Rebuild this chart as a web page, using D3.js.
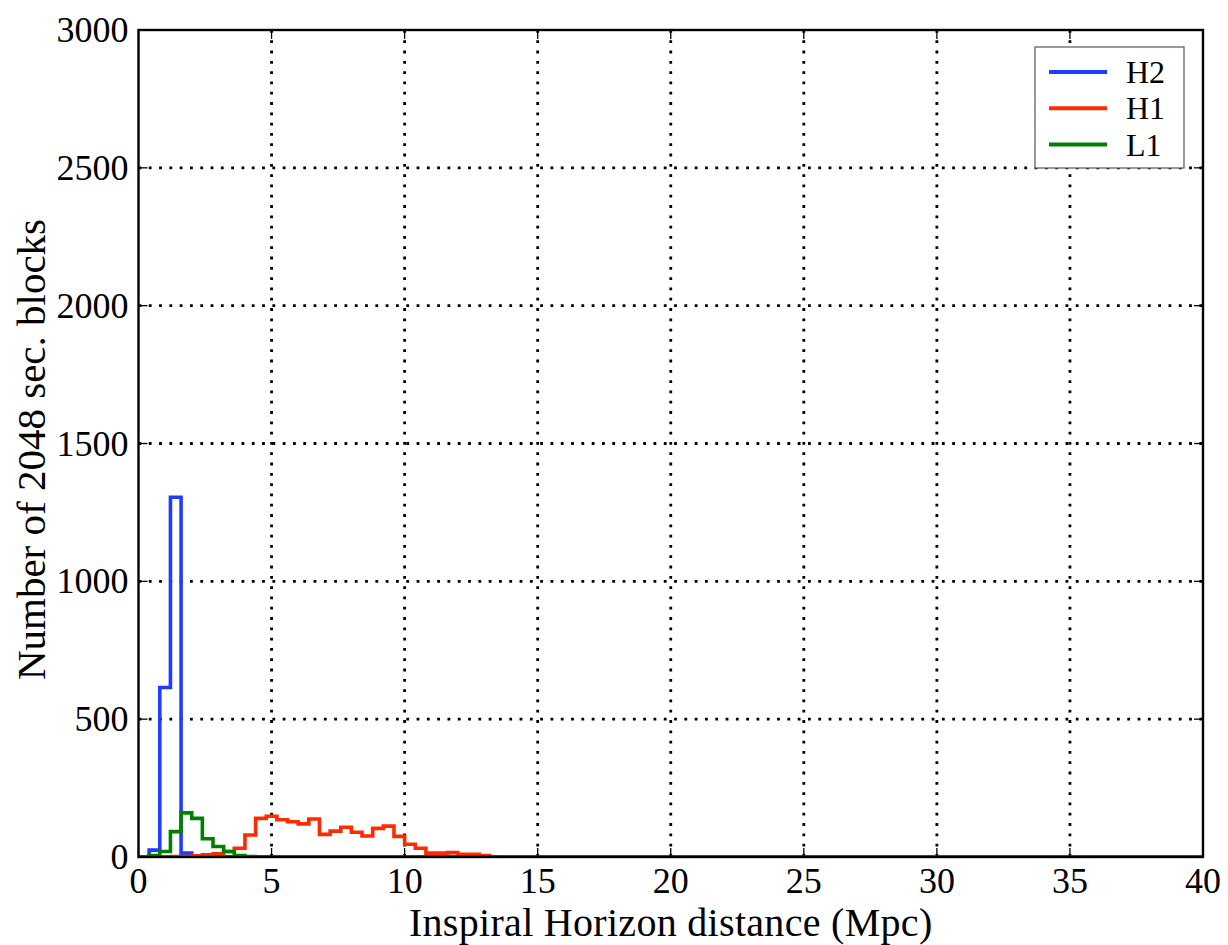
<!DOCTYPE html>
<html>
<head>
<meta charset="utf-8">
<script src="https://cdn.jsdelivr.net/npm/d3@7/dist/d3.min.js"></script>
<style>
  body { margin: 0; background: #fff; }
  text { font-family: "Liberation Serif", "DejaVu Serif", serif; fill: #000; }
</style>
</head>
<body>
<svg width="1228" height="945"></svg>
<script>
// histogram bins: 100 bins of 0.4 Mpc between 0 and 40, counts listed from bin 0,
// bins not listed are empty
var binWidth = 0.4,
    xMax = 40;

var h2Counts = [0, 25, 615, 1305, 14, 2, 1, 1, 1];
var h1Counts = [0, 0, 1, 2, 2, 4, 8, 12, 20, 32, 80, 140, 148, 135, 128, 120, 138, 82,
                94, 108, 90, 76, 104, 112, 75, 46, 32, 14, 14, 16, 10, 10, 5, 1];
var l1Counts = [0, 5, 20, 92, 160, 140, 66, 38, 20, 5, 2, 1, 1];

var seriesNames = ["H2", "H1", "L1"];
var seriesColors = ["#1f3cff", "#ff2a00", "#008000"];

var xTicks = [0, 5, 10, 15, 20, 25, 30, 35, 40];
var yTicks = [0, 500, 1000, 1500, 2000, 2500, 3000];

var svg = d3.select("svg");
var margin = {left: 138.5, top: 30, right: 25, bottom: 88};
var width = +svg.attr("width") - margin.left - margin.right;
var height = +svg.attr("height") - margin.top - margin.bottom;

var g = svg.append("g")
    .attr("transform", "translate(" + margin.left + "," + margin.top + ")");

var x = d3.scaleLinear().domain([0, xMax]).range([0, width]);
var y = d3.scaleLinear().domain([0, 3000]).range([height, 0]);

// dotted grid
g.append("g").selectAll("line")
  .data(xTicks.slice(1, -1))
  .enter().append("line")
    .attr("x1", function(d) { return x(d); })
    .attr("x2", function(d) { return x(d); })
    .attr("y1", 0).attr("y2", height)
    .attr("stroke", "#000").attr("stroke-width", 2.8)
    .attr("stroke-dasharray", "2.8,7.5");
g.append("g").selectAll("line")
  .data(yTicks.slice(1, -1))
  .enter().append("line")
    .attr("y1", function(d) { return y(d); })
    .attr("y2", function(d) { return y(d); })
    .attr("x1", 0).attr("x2", width)
    .attr("stroke", "#000").attr("stroke-width", 2.8)
    .attr("stroke-dasharray", "2.8,7.5");

// step histograms
svg.append("clipPath").attr("id", "clip")
  .append("rect").attr("width", width).attr("height", height);

function stepPoints(counts) {
  var pts = [[0, 0]];
  counts.forEach(function(c, i) {
    pts.push([i * binWidth, c]);
    pts.push([(i + 1) * binWidth, c]);
  });
  pts.push([counts.length * binWidth, 0]);
  pts.push([xMax, 0]);
  return pts;
}

var line = d3.line()
    .x(function(d) { return x(d[0]); })
    .y(function(d) { return y(d[1]); });

var allCounts = [h2Counts, h1Counts, l1Counts];
g.append("g").attr("clip-path", "url(#clip)")
  .selectAll("path")
  .data(allCounts)
  .enter().append("path")
    .attr("d", function(d) { return line(stepPoints(d)); })
    .attr("fill", "none")
    .attr("stroke", function(d, i) { return seriesColors[i]; })
    .attr("stroke-width", 3.6)
    .attr("stroke-linejoin", "miter");

// inward ticks on all sides
var tickLen = 9;
var ticks = g.append("g").attr("stroke", "#000").attr("stroke-width", 1.3);
xTicks.forEach(function(d) {
  ticks.append("line").attr("x1", x(d)).attr("x2", x(d)).attr("y1", height).attr("y2", height - tickLen);
  ticks.append("line").attr("x1", x(d)).attr("x2", x(d)).attr("y1", 0).attr("y2", tickLen);
});
yTicks.forEach(function(d) {
  ticks.append("line").attr("y1", y(d)).attr("y2", y(d)).attr("x1", 0).attr("x2", tickLen);
  ticks.append("line").attr("y1", y(d)).attr("y2", y(d)).attr("x1", width).attr("x2", width - tickLen);
});

// frame
g.append("rect")
    .attr("width", width).attr("height", height)
    .attr("fill", "none").attr("stroke", "#000").attr("stroke-width", 2.4);

// tick labels
g.append("g").selectAll("text")
  .data(xTicks)
  .enter().append("text")
    .attr("x", function(d) { return x(d); })
    .attr("y", height + 36)
    .attr("text-anchor", "middle")
    .attr("font-size", 36)
    .text(function(d) { return d; });
g.append("g").selectAll("text")
  .data(yTicks)
  .enter().append("text")
    .attr("x", -10)
    .attr("y", function(d) { return y(d) + 12; })
    .attr("text-anchor", "end")
    .attr("font-size", 36)
    .text(function(d) { return d; });

// axis titles
g.append("text")
    .attr("x", width / 2).attr("y", height + 79)
    .attr("text-anchor", "middle")
    .attr("font-size", 40)
    .attr("letter-spacing", 0.3)
    .text("Inspiral Horizon distance (Mpc)");
svg.append("text")
    .attr("transform", "translate(45," + (margin.top + height / 2 + 6) + ") rotate(-90)")
    .attr("text-anchor", "middle")
    .attr("font-size", 41)
    .text("Number of 2048 sec. blocks");

// legend
var lg = svg.append("g").attr("transform", "translate(1035,47)");
lg.append("rect")
    .attr("width", 149).attr("height", 121)
    .attr("fill", "#fff").attr("stroke", "#555").attr("stroke-width", 1.2);
seriesNames.forEach(function(name, i) {
  var ly = 25 + i * 36.3;
  lg.append("line")
      .attr("x1", 14).attr("x2", 72).attr("y1", ly).attr("y2", ly)
      .attr("stroke", seriesColors[i]).attr("stroke-width", 4);
  lg.append("text")
      .attr("x", 91).attr("y", ly + 11)
      .attr("font-size", 32)
      .text(name);
});
</script>
</body>
</html>
